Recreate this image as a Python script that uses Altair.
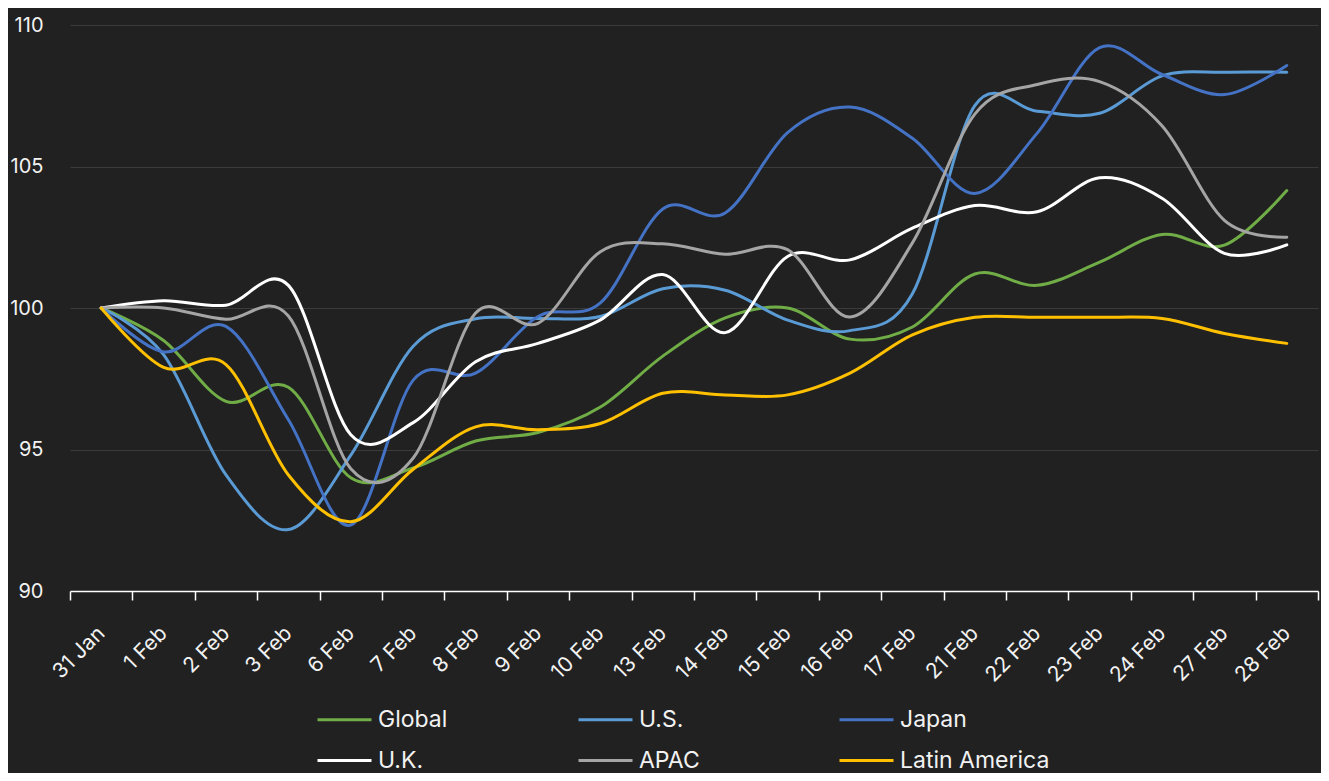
import altair as alt
import pandas as pd

dates = ["31 Jan", "1 Feb", "2 Feb", "3 Feb", "6 Feb", "7 Feb", "8 Feb", "9 Feb",
         "10 Feb", "13 Feb", "14 Feb", "15 Feb", "16 Feb", "17 Feb", "21 Feb",
         "22 Feb", "23 Feb", "24 Feb", "27 Feb", "28 Feb"]

series_names = ["Global", "U.S.", "Japan", "U.K.", "APAC", "Latin America"]
series_colors = ["#70AD47", "#5B9BD5", "#4472C4", "#FFFFFF", "#A5A5A5", "#FFC000"]

global_vals = [100, 98.85, 96.7, 97.2, 94.0, 94.35, 95.3, 95.6, 96.5, 98.3, 99.65,
               100.0, 98.9, 99.33, 101.2, 100.8, 101.62, 102.6, 102.22, 104.15]
us_vals = [100, 98.35, 94.1, 92.17, 94.8, 98.65, 99.62, 99.63, 99.7, 100.68, 100.63,
           99.57, 99.2, 100.5, 107.15, 106.95, 106.88, 108.2, 108.33, 108.33]
japan_vals = [100, 98.45, 99.35, 96.05, 92.33, 97.45, 97.7, 99.7, 100.18, 103.5, 103.36,
              106.2, 107.1, 106.0, 104.05, 106.18, 109.2, 108.25, 107.54, 108.57]
uk_vals = [100, 100.26, 100.1, 100.8, 95.52, 95.95, 98.1, 98.75, 99.58, 101.18, 99.13,
           101.82, 101.7, 102.82, 103.62, 103.4, 104.6, 103.88, 101.93, 102.23]
apac_vals = [100, 100.0, 99.6, 99.72, 94.32, 94.7, 99.82, 99.46, 101.99, 102.27, 101.9,
             102.06, 99.68, 102.3, 106.85, 107.9, 108.0, 106.44, 103.1, 102.5]
latam_vals = [100, 97.9, 98.0, 94.1, 92.45, 94.3, 95.8, 95.7, 95.92, 96.99, 96.93,
              96.93, 97.7, 99.05, 99.67, 99.67, 99.67, 99.63, 99.1, 98.75]

all_vals = [global_vals, us_vals, japan_vals, uk_vals, apac_vals, latam_vals]

rows = []
for name, vals in zip(series_names, all_vals):
    for d, v in zip(dates, vals):
        rows.append({"date": d, "series": name, "value": v})
df = pd.DataFrame(rows)

FONT = "Inter"
TXT = "#f2f2f2"

chart = alt.Chart(df).mark_line(
    interpolate="cardinal", strokeWidth=3, strokeCap="round"
).encode(
    x=alt.X(
        "date:O", sort=dates, title=None, bandPosition=0.5,
        scale=alt.Scale(type="band", paddingInner=0, paddingOuter=0),
        axis=alt.Axis(
            tickBand="extent", labelAngle=-45, labelAlign="right",
            labelBaseline="middle", labelPadding=30, tickSize=9,
            tickColor="#ffffff", domainColor="#ffffff", domainWidth=1.5,
            tickWidth=1.5, labelColor=TXT, labelFontSize=21, labelFont=FONT,
            grid=False,
        ),
    ),
    y=alt.Y(
        "value:Q", title=None,
        scale=alt.Scale(domain=[90, 110], nice=False, zero=False),
        axis=alt.Axis(
            values=[90, 95, 100, 105, 110], domain=False, ticks=False,
            labelPadding=27, labelColor=TXT, labelFontSize=20, labelFont=FONT,
            grid=True, gridColor="#3b3b3b", gridWidth=1,
        ),
    ),
    color=alt.Color(
        "series:N", sort=series_names, title=None,
        scale=alt.Scale(domain=series_names, range=series_colors),
        legend=alt.Legend(
            orient="none", legendX=246, legendY=666, columns=3,
            direction="horizontal", gridAlign="all", columnPadding=44,
            rowPadding=-22, symbolType="stroke", symbolSize=2916,
            symbolStrokeWidth=3, labelOffset=5, labelFontSize=23,
            labelFont=FONT, labelColor=TXT, padding=0,
        ),
    ),
    order=alt.Order("series_order:Q"),
).transform_calculate(
    series_order="indexof(" + str(series_names) + ", datum.series)"
).properties(
    width=1248, height=566,
    autosize=alt.AutoSizeParams(type="none"),
    padding={"left": 62, "top": 17, "right": 3, "bottom": 182},
    background="#212121",
).configure_view(stroke=None)

chart.save("out.html", embed_options={"renderer": "svg", "actions": False})
